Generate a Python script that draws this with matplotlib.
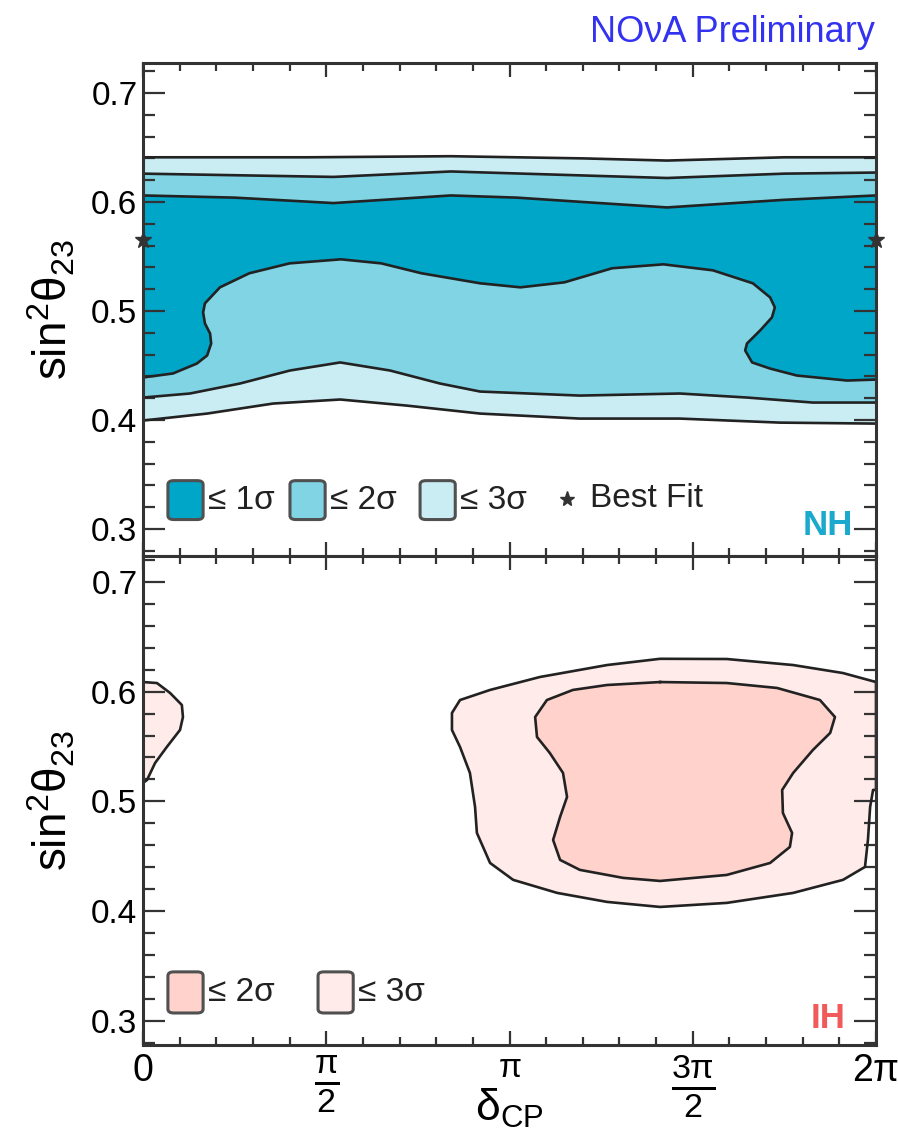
import numpy as np
import matplotlib.pyplot as plt
from matplotlib.patches import FancyBboxPatch
from matplotlib.ticker import FixedLocator

plt.rcParams['font.family'] = ['Liberation Sans', 'DejaVu Sans']
plt.rcParams['mathtext.fontset'] = 'custom'
plt.rcParams['mathtext.rm'] = 'Liberation Sans'
plt.rcParams['mathtext.it'] = 'Liberation Sans:italic'
plt.rcParams['mathtext.bf'] = 'Liberation Sans:bold'
plt.rcParams['mathtext.default'] = 'regular'

# delta_CP values are in units of pi, y values are sin^2(theta23)

# ---- NH ----
nh_3s_up_d = [0, 0.45, 0.84, 1.20, 1.43, 1.75, 2.0]
nh_3s_up_s = [0.641, 0.641, 0.642, 0.640, 0.638, 0.641, 0.641]
nh_3s_lo_d = [0, 0.175, 0.355, 0.538, 0.720, 0.920, 1.192, 1.465, 1.738, 2.0]
nh_3s_lo_s = [0.3995, 0.4059, 0.4151, 0.4188, 0.4132, 0.4059, 0.4013, 0.4013, 0.3976, 0.3967]

nh_2s_up_d = [0, 0.52, 0.84, 1.43, 1.75, 2.0]
nh_2s_up_s = [0.626, 0.623, 0.628, 0.622, 0.626, 0.627]
nh_2s_lo_d = [0, 0.128, 0.265, 0.401, 0.538, 0.674, 0.810, 0.920, 1.192, 1.465, 1.648, 1.828, 2.0]
nh_2s_lo_s = [0.4206, 0.4243, 0.4335, 0.4454, 0.4528, 0.4454, 0.4335, 0.4261, 0.4224, 0.4243,
              0.4206, 0.4160, 0.4160]

nh_1s_up_d = [0, 0.25, 0.52, 0.84, 1.02, 1.20, 1.43, 1.75, 2.0]
nh_1s_up_s = [0.606, 0.604, 0.599, 0.606, 0.604, 0.600, 0.595, 0.602, 0.606]
nh_1s_lo_d = [0, 0.082, 0.147, 0.175, 0.186, 0.183, 0.169, 0.164, 0.169, 0.210, 0.29, 0.40, 0.54,
              0.65, 0.76, 0.92, 1.03, 1.15, 1.28, 1.42, 1.555, 1.664, 1.711, 1.724, 1.716, 1.684,
              1.648, 1.643, 1.662, 1.711, 1.784, 1.921, 2.0]
nh_1s_lo_s = [0.4390, 0.4427, 0.4518, 0.4592, 0.4702, 0.4794, 0.4886, 0.4987, 0.5070, 0.5217,
              0.5346, 0.5437, 0.5474, 0.5437, 0.5346, 0.5254, 0.5217, 0.5263, 0.5392, 0.5428,
              0.5373, 0.5254, 0.5125, 0.5033, 0.4941, 0.4822, 0.4702, 0.4638, 0.4528, 0.4472,
              0.4408, 0.4362, 0.4371]

best_fit_d = [0.0, 2.0]
best_fit_s = [0.565, 0.565]

# ---- IH ----
ih_3s_a_d = [2.0, 1.910, 1.774, 1.593, 1.411, 1.266, 1.083, 0.947, 0.865, 0.843, 0.843, 0.865,
             0.892, 0.906, 0.911, 0.947, 1.010, 1.130, 1.266, 1.411, 1.593, 1.774, 1.910, 1.970,
             1.978, 1.984, 1.992, 2.0]
ih_3s_a_s = [0.6088, 0.6170, 0.6243, 0.6298, 0.6300, 0.6243, 0.6134, 0.6016, 0.5924, 0.5806,
             0.5651, 0.5496, 0.5259, 0.4949, 0.4712, 0.4438, 0.4284, 0.4165, 0.4083, 0.4037,
             0.4074, 0.4165, 0.4284, 0.4402, 0.4648, 0.4949, 0.5104, 0.5104]
ih_3s_b_d = [0, 0.038, 0.074, 0.106, 0.109, 0.101, 0.065, 0.033, 0.011, 0]
ih_3s_b_s = [0.6088, 0.6079, 0.5988, 0.5879, 0.5769, 0.5651, 0.5496, 0.5350, 0.5195, 0.5168]

ih_2s_d = [1.411, 1.266, 1.173, 1.102, 1.070, 1.075, 1.110, 1.146, 1.157, 1.138, 1.119, 1.138,
           1.192, 1.310, 1.411, 1.593, 1.711, 1.765, 1.771, 1.746, 1.744, 1.774, 1.828, 1.875,
           1.888, 1.847, 1.730, 1.593]
ih_2s_s = [0.6088, 0.6061, 0.6016, 0.5924, 0.5769, 0.5587, 0.5441, 0.5259, 0.5040, 0.4858,
           0.4648, 0.4466, 0.4375, 0.4302, 0.4274, 0.4329, 0.4438, 0.4584, 0.4712, 0.4894,
           0.5104, 0.5259, 0.5469, 0.5624, 0.5769, 0.5924, 0.6034, 0.6079]

xtick_vals = [0, 0.5, 1.0, 1.5, 2.0]
xtick_labels = ['0', r'$\frac{\pi}{2}$', r'$\pi$', r'$\frac{3\pi}{2}$', r'$2\pi$']
xtick_sizes = [27, 35, 24, 35, 27]
ytick_vals = [0.3, 0.4, 0.5, 0.6, 0.7]

NH_C = ['#00a6c8', '#80d4e4', '#caedf4']
IH_C = ['#ffd3cc', '#ffebe9']
LINE = '#222222'
EDGE = '#333333'


def pi(a):
    return np.array(a) * np.pi


def band(ax, up_d, up_s, lo_d, lo_s, color):
    x = np.concatenate([pi(up_d), pi(lo_d)[::-1]])
    y = np.concatenate([up_s, lo_s[::-1]])
    ax.fill(x, y, color=color, lw=0, zorder=1)


def line(ax, d, s, closed=False):
    d = list(d)
    s = list(s)
    if closed:
        d = d + d[:1]
        s = s + s[:1]
    ax.plot(pi(d), s, color=LINE, lw=1.9, solid_joinstyle='round', zorder=2)


def legend_box(ax, x, y, w, h, color, label):
    ax.add_patch(FancyBboxPatch((x, y), w, h, boxstyle='round,pad=0,rounding_size=0.008',
                                transform=ax.transAxes, fc=color, ec='#505050', lw=2.2,
                                clip_on=False, zorder=6))
    ax.text(x + w + 0.006, y + h / 2, label, transform=ax.transAxes, ha='left', va='center',
            fontsize=24, color='#222222', zorder=6)


fig = plt.figure(figsize=(8.98, 11.39), dpi=100)
ax1 = fig.add_axes([143 / 898, (1139 - 555.5) / 1139, 733 / 898, 492.5 / 1139])
ax2 = fig.add_axes([143 / 898, 94 / 1139, 733 / 898, 489.5 / 1139])

# NH panel
band(ax1, nh_3s_up_d, nh_3s_up_s, nh_3s_lo_d, nh_3s_lo_s, NH_C[2])
band(ax1, nh_2s_up_d, nh_2s_up_s, nh_2s_lo_d, nh_2s_lo_s, NH_C[1])
band(ax1, nh_1s_up_d, nh_1s_up_s, nh_1s_lo_d, nh_1s_lo_s, NH_C[0])
for d, s in [(nh_3s_up_d, nh_3s_up_s), (nh_3s_lo_d, nh_3s_lo_s), (nh_2s_up_d, nh_2s_up_s),
             (nh_2s_lo_d, nh_2s_lo_s), (nh_1s_up_d, nh_1s_up_s), (nh_1s_lo_d, nh_1s_lo_s)]:
    line(ax1, d, s)
ax1.plot(pi(best_fit_d), best_fit_s, ls='none', marker='*', ms=12, color='#333333',
         clip_on=False, zorder=7)

# IH panel
ax2.fill(pi(ih_3s_a_d), ih_3s_a_s, color=IH_C[1], lw=0, zorder=1)
ax2.fill(pi(ih_3s_b_d), ih_3s_b_s, color=IH_C[1], lw=0, zorder=1)
ax2.fill(pi(ih_2s_d), ih_2s_s, color=IH_C[0], lw=0, zorder=1)
line(ax2, ih_3s_a_d, ih_3s_a_s, closed=True)
line(ax2, ih_3s_b_d, ih_3s_b_s, closed=True)
line(ax2, ih_2s_d, ih_2s_s, closed=True)

for ax, ylim in [(ax1, (0.2757, 0.7275)), (ax2, (0.2778, 0.7242))]:
    ax.set_xlim(0, 2 * np.pi)
    ax.set_ylim(*ylim)
    ax.xaxis.set_major_locator(FixedLocator(pi(xtick_vals)))
    ax.xaxis.set_minor_locator(FixedLocator(np.arange(21) * np.pi / 10))
    ax.yaxis.set_major_locator(FixedLocator(ytick_vals))
    ax.yaxis.set_minor_locator(FixedLocator(np.arange(0.28, 0.73, 0.02)))
    ax.set_yticklabels(['%.1f' % v for v in ytick_vals])
    ax.tick_params(which='both', direction='in', top=True, right=True, width=1.6, color=EDGE)
    ax.tick_params(axis='y', which='major', length=16, labelsize=24, pad=4)
    ax.tick_params(axis='y', which='minor', length=8.5)
    ax.tick_params(axis='x', which='major', length=10)
    ax.tick_params(axis='x', which='minor', length=5.5)
    for sp in ax.spines.values():
        sp.set_linewidth(2.2)
        sp.set_color(EDGE)
    ax.set_ylabel(r'$sin^{2}\theta_{23}$', fontsize=33)
    ax.yaxis.set_label_coords(-0.09, 0.5)

ax1.tick_params(axis='x', labelbottom=False)
ax2.set_xticklabels(xtick_labels)
ax2.tick_params(axis='x', which='major', pad=6)
for lab, fs in zip(ax2.get_xticklabels(), xtick_sizes):
    lab.set_fontsize(fs)
ax2.set_xlabel(r'$\delta_{CP}$', fontsize=32, va='top')
ax2.xaxis.set_label_coords(0.5, -0.085)

# legends
legend_box(ax1, 0.034, 0.073, 0.048, 0.079, NH_C[0], '≤ 1σ')
legend_box(ax1, 0.2005, 0.073, 0.048, 0.079, NH_C[1], '≤ 2σ')
legend_box(ax1, 0.378, 0.073, 0.048, 0.079, NH_C[2], '≤ 3σ')
ax1.plot([0.578], [0.115], ls='none', marker='*', ms=11, color='#333333',
         transform=ax1.transAxes, zorder=6)
ax1.text(0.61, 0.115, 'Best Fit', transform=ax1.transAxes, ha='left', va='center',
         fontsize=24, color='#222222')
legend_box(ax2, 0.034, 0.0654, 0.048, 0.084, IH_C[0], '≤ 2σ')
legend_box(ax2, 0.2388, 0.0654, 0.048, 0.084, IH_C[1], '≤ 3σ')

ax1.text(0.9686, 0.0407, 'NH', transform=ax1.transAxes, ha='right', va='baseline',
         fontsize=25, fontweight='bold', color='#1ba9cd')
ax2.text(0.958, 0.0348, 'IH', transform=ax2.transAxes, ha='right', va='baseline',
         fontsize=25, fontweight='bold', color='#f05a5a')

fig.text(875 / 898, 1 - 42 / 1139, 'NOνA Preliminary', ha='right', va='baseline',
         fontsize=26, color='#3232f0')

fig.savefig('out.png', dpi=100)
